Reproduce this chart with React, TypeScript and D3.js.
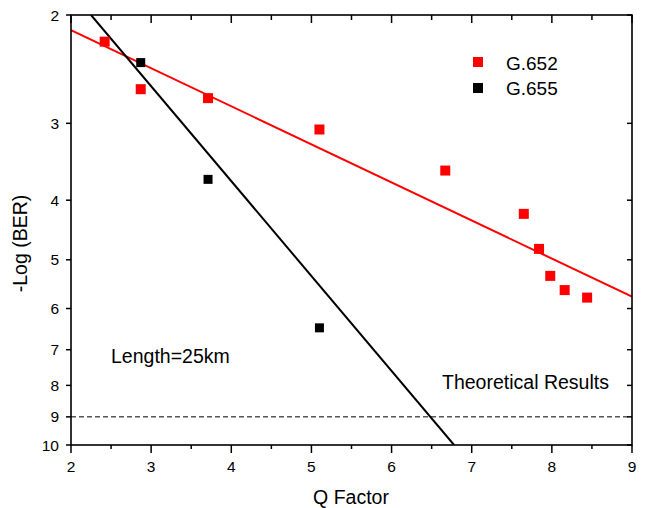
import React from "react";
import * as d3 from "d3";

const g652Q = [2.42, 2.87, 3.71, 5.1, 6.67, 7.65, 7.84, 7.98, 8.16, 8.44];
const g652Ber = [2.21, 2.64, 2.73, 3.07, 3.58, 4.21, 4.8, 5.31, 5.6, 5.76];
const g655Q = [2.87, 3.71, 5.1];
const g655Ber = [2.39, 3.7, 6.45];
const fit652Q = [2.0, 9.0];
const fit652Ber = [2.116, 5.74];
const fit655Q = [2.25, 6.78];
const fit655Ber = [2.0, 10.0];
const xTicks = [2, 3, 4, 5, 6, 7, 8, 9];
const xMinor = [2.5, 3.5, 4.5, 5.5, 6.5, 7.5, 8.5];
const yTicks = [2, 3, 4, 5, 6, 7, 8, 9, 10];
const threshold = 9;

export default function App() {
  const W = 645, H = 508;
  const L = 71, R = 632, T = 15, B = 445;
  const x = d3.scaleLinear().domain([2, 9]).range([L, R]);
  const y = d3.scaleLog().domain([2, 10]).range([T, B]);
  const font = "Arial, 'Liberation Sans', sans-serif";
  const line = d3.line<[number, number]>().x(d => x(d[0])).y(d => y(d[1]));
  const fit652: [number, number][] = fit652Q.map((q, i) => [q, fit652Ber[i]]);
  const fit655: [number, number][] = fit655Q.map((q, i) => [q, fit655Ber[i]]);
  return (
    <svg width={W} height={H} style={{ position: "absolute", left: 0, top: 0, background: "#fff" }}>
      <rect x={0} y={0} width={W} height={H} fill="#fff" />
      <defs>
        <clipPath id="plot">
          <rect x={L} y={T} width={R - L} height={B - T} />
        </clipPath>
      </defs>
      <line x1={L} x2={R} y1={y(threshold)} y2={y(threshold)} stroke="#000" strokeWidth={1} strokeDasharray="5,3" />
      <g clipPath="url(#plot)">
        <path d={line(fit652) || ""} fill="none" stroke="#ff0000" strokeWidth={2} />
        <path d={line(fit655) || ""} fill="none" stroke="#000" strokeWidth={2} />
      </g>
      {g652Q.map((q, i) => (
        <rect key={"r" + i} x={x(q) - 5} y={y(g652Ber[i]) - 5} width={10} height={10} fill="#ff0000" />
      ))}
      {g655Q.map((q, i) => (
        <rect key={"b" + i} x={x(q) - 4.5} y={y(g655Ber[i]) - 4.5} width={9} height={9} fill="#000" />
      ))}
      <rect x={L} y={T} width={R - L} height={B - T} fill="none" stroke="#000" strokeWidth={1.6} />
      {xTicks.map(t => (
        <line key={"bx" + t} x1={x(t)} x2={x(t)} y1={B} y2={B + 8} stroke="#000" strokeWidth={1.5} />
      ))}
      {xMinor.map(t => (
        <line key={"bm" + t} x1={x(t)} x2={x(t)} y1={B} y2={B + 4} stroke="#000" strokeWidth={1.5} />
      ))}
      {xTicks.map(t => (
        <line key={"tx" + t} x1={x(t)} x2={x(t)} y1={T} y2={T + 8} stroke="#000" strokeWidth={1.5} />
      ))}
      {xMinor.map(t => (
        <line key={"tm" + t} x1={x(t)} x2={x(t)} y1={T} y2={T + 5} stroke="#000" strokeWidth={1.5} />
      ))}
      {yTicks.map(t => (
        <line key={"ly" + t} x1={L - 5} x2={L} y1={y(t)} y2={y(t)} stroke="#000" strokeWidth={1.5} />
      ))}
      {yTicks.map(t => (
        <line key={"ry" + t} x1={R - 5} x2={R} y1={y(t)} y2={y(t)} stroke="#000" strokeWidth={1.5} />
      ))}
      {xTicks.map(t => (
        <text key={"xl" + t} x={x(t)} y={472} textAnchor="middle" fontFamily={font} fontSize={15.5} fill="#000">{t}</text>
      ))}
      {yTicks.map(t => (
        <text key={"yl" + t} x={59} y={y(t) + 5.5} textAnchor="end" fontFamily={font} fontSize={15.5} fill="#000">{t}</text>
      ))}
      <text x={351} y={504} textAnchor="middle" fontFamily={font} fontSize={19.5} fill="#000">Q Factor</text>
      <text transform={`translate(27,243.5) rotate(-90)`} textAnchor="middle" fontFamily={font} fontSize={19.5} fill="#000">-Log (BER)</text>
      <rect x={473} y={57} width={10} height={10} fill="#ff0000" />
      <text x={506} y={69.5} fontFamily={font} fontSize={19} fill="#000">G.652</text>
      <rect x={473} y={83} width={10} height={10} fill="#000" />
      <text x={506} y={94.5} fontFamily={font} fontSize={19} fill="#000">G.655</text>
      <text x={111} y={363} fontFamily={font} fontSize={19.5} fill="#000">Length=25km</text>
      <text x={442} y={389} fontFamily={font} fontSize={19.5} fill="#000">Theoretical Results</text>
    </svg>
  );
}
